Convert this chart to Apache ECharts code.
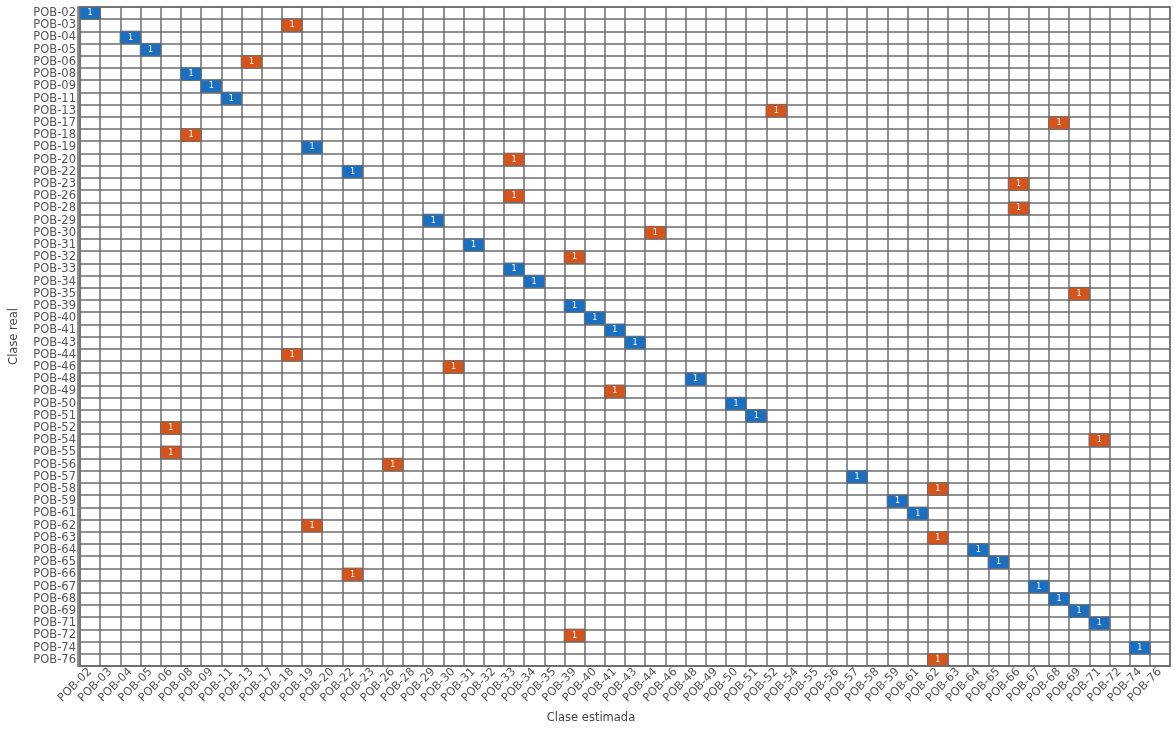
<!DOCTYPE html>
<html>
<head>
<meta charset="utf-8">
<script src="https://cdn.jsdelivr.net/npm/echarts@6/dist/echarts.min.js"></script>
<style>html,body{margin:0;padding:0;background:#fff}#c{width:1175px;height:729px}</style>
</head>
<body>
<div id="c"></div>
<script>
// Class labels (same order on both axes)
const classes = ['POB-02','POB-03','POB-04','POB-05','POB-06','POB-08','POB-09','POB-11','POB-13','POB-17','POB-18','POB-19','POB-20','POB-22','POB-23','POB-26','POB-28','POB-29','POB-30','POB-31','POB-32','POB-33','POB-34','POB-35','POB-39','POB-40','POB-41','POB-43','POB-44','POB-46','POB-48','POB-49','POB-50','POB-51','POB-52','POB-54','POB-55','POB-56','POB-57','POB-58','POB-59','POB-61','POB-62','POB-63','POB-64','POB-65','POB-66','POB-67','POB-68','POB-69','POB-71','POB-72','POB-74','POB-76'];
// Actual class (rows) and the class estimated for it
const actual = classes.slice();
const estimated = ['POB-02','POB-18','POB-04','POB-05','POB-13','POB-08','POB-09','POB-11','POB-52','POB-68','POB-08','POB-19','POB-33','POB-22','POB-66','POB-33','POB-66','POB-29','POB-44','POB-31','POB-39','POB-33','POB-34','POB-69','POB-39','POB-40','POB-41','POB-43','POB-18','POB-30','POB-48','POB-41','POB-50','POB-51','POB-06','POB-71','POB-06','POB-26','POB-57','POB-62','POB-59','POB-61','POB-19','POB-62','POB-64','POB-65','POB-22','POB-67','POB-68','POB-69','POB-71','POB-39','POB-74','POB-62'];
const counts = [1,1,1,1,1,1,1,1,1,1,1,1,1,1,1,1,1,1,1,1,1,1,1,1,1,1,1,1,1,1,1,1,1,1,1,1,1,1,1,1,1,1,1,1,1,1,1,1,1,1,1,1,1,1];

const BLUE = '#1b6fc0', ORANGE = '#d4541c', LINE = '#6c6c6c';
const data = actual.map((a, i) => ({
  value: [estimated[i], a, counts[i]],
  itemStyle: { color: estimated[i] === a ? BLUE : ORANGE }
}));

const chart = echarts.init(document.getElementById('c'), null, { renderer: 'canvas' });
const lbl = { fontFamily: 'DejaVu Sans', fontSize: 11.5, color: '#555' };
chart.setOption({
  animation: false,
  backgroundColor: '#fff',
  grid: { left: 78, top: 7, right: 5, bottom: 63 },
  xAxis: {
    type: 'category', data: classes,
    name: 'Clase estimada', nameLocation: 'middle', nameGap: 46,
    nameTextStyle: { fontFamily: 'DejaVu Sans', fontSize: 11.5, color: '#444', padding: [0, 68, 0, 0] },
    axisLine: { show: true, lineStyle: { color: LINE, width: 1.5 } },
    axisTick: { show: false },
    axisLabel: Object.assign({ interval: 0, rotate: 45, margin: 4 }, lbl),
    splitLine: { show: true, interval: 0, lineStyle: { color: LINE, width: 1.5 } },
    position: 'bottom'
  },
  yAxis: {
    type: 'category', data: actual, inverse: true,
    name: 'Clase real', nameLocation: 'middle', nameGap: 60,
    nameTextStyle: { fontFamily: 'DejaVu Sans', fontSize: 11.5, color: '#444' },
    axisLine: { show: true, lineStyle: { color: LINE, width: 1.5 } },
    axisTick: { show: false },
    axisLabel: Object.assign({ interval: 0, margin: 4 }, lbl),
    splitLine: { show: true, interval: 0, lineStyle: { color: LINE, width: 1.5 } }
  },
  graphic: [
    { type: 'rect', shape: { x: 78, y: 7, width: 1092, height: 659 }, style: { fill: 'none', stroke: LINE, lineWidth: 1.5 }, z: 100, silent: true }
  ],
  series: [{
    type: 'heatmap',
    data: data,
    itemStyle: { borderColor: LINE, borderWidth: 1, borderRadius: 0 },
    label: { show: true, color: '#fff', fontSize: 8, fontFamily: 'DejaVu Sans' },
    emphasis: { disabled: true }
  }]
});
</script>
</body>
</html>
